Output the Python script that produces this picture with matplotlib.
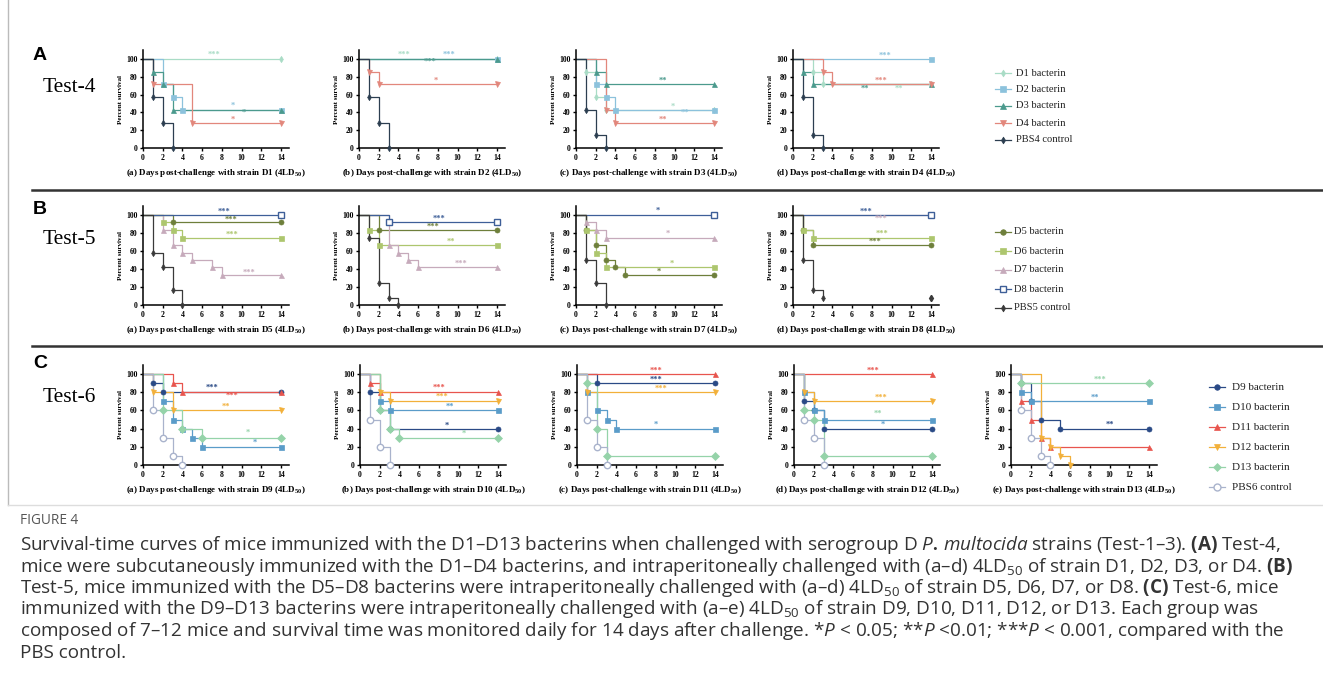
import matplotlib
matplotlib.use('Agg')
import matplotlib.pyplot as plt

W, H, DPI = 1323, 688, 100

plt.rcParams['mathtext.fontset'] = 'custom'
plt.rcParams['mathtext.rm'] = 'Liberation Serif:bold'
plt.rcParams['mathtext.it'] = 'Open Sans:italic'
plt.rcParams['mathtext.bf'] = 'Open Sans:bold'
plt.rcParams['mathtext.sf'] = 'Open Sans'

# ---- series styles (legend order) ----
keys4 = ['D1', 'D2', 'D3', 'D4', 'PBS']
names4 = ['D1 bacterin', 'D2 bacterin', 'D3 bacterin', 'D4 bacterin', 'PBS4 control']
colors4 = ['#a9dcc6', '#8cc2dc', '#4b9a8d', '#e2877c', '#2c3e50']
markers4 = ['d', 's', '^', 'v', 'd']

keys5 = ['D5', 'D6', 'D7', 'D8', 'PBS']
names5 = ['D5 bacterin', 'D6 bacterin', 'D7 bacterin', 'D8 bacterin', 'PBS5 control']
colors5 = ['#6e7f3b', '#adc66e', '#c6aabb', '#3e5f98', '#3a3a3a']
markers5 = ['o', 's', '^', 's', 'd']

keys6 = ['D9', 'D10', 'D11', 'D12', 'D13', 'PBS']
names6 = ['D9 bacterin', 'D10 bacterin', 'D11 bacterin', 'D12 bacterin', 'D13 bacterin', 'PBS6 control']
colors6 = ['#2a4a86', '#5a9cc9', '#e8554e', '#f2b03a', '#95d3a9', '#a9b3cc']
markers6 = ['o', 's', '^', 'v', 'D', 'o']

# ---- survival data: key -> (days, percent survival) ----
# Test-4
t4a = {'D1': ([0, 14], [100, 100]),
       'D2': ([0, 2, 3, 4, 14], [100, 71.4, 57.1, 42.9, 42.9]),
       'D3': ([0, 1, 2, 3, 14], [100, 85.7, 71.4, 42.9, 42.9]),
       'D4': ([0, 1, 5, 14], [100, 71.4, 28.6, 28.6]),
       'PBS': ([0, 1, 2, 3], [100, 57.1, 28.6, 0])}
t4b = {'D1': ([0, 14], [100, 100]),
       'D2': ([0, 14], [100, 100]),
       'D3': ([0, 14], [100, 100]),
       'D4': ([0, 1, 2, 14], [100, 85.7, 71.4, 71.4]),
       'PBS': ([0, 1, 2, 3], [100, 57.1, 28.6, 0])}
t4c = {'D1': ([0, 1, 2, 3, 14], [100, 85.7, 57.1, 42.9, 42.9]),
       'D2': ([0, 2, 3, 4, 14], [100, 71.4, 57.1, 42.9, 42.9]),
       'D3': ([0, 2, 3, 14], [100, 85.7, 71.4, 71.4]),
       'D4': ([0, 3, 4, 14], [100, 42.9, 28.6, 28.6]),
       'PBS': ([0, 1, 2, 3], [100, 42.9, 14.3, 0])}
t4d = {'D1': ([0, 2, 3, 14], [100, 85.7, 71.4, 71.4]),
       'D2': ([0, 14], [100, 100]),
       'D3': ([0, 1, 2, 14], [100, 85.7, 71.4, 71.4]),
       'D4': ([0, 3, 4, 14], [100, 85.7, 71.4, 71.4]),
       'PBS': ([0, 1, 2, 3], [100, 57.1, 14.3, 0])}
# Test-5
t5a = {'D5': ([0, 3, 14], [100, 91.7, 91.7]),
       'D6': ([0, 2, 3, 4, 14], [100, 91.7, 83.3, 75, 75]),
       'D7': ([0, 2, 3, 4, 5, 7, 8, 14], [100, 83.3, 66.7, 58.3, 50, 41.7, 33.3, 33.3]),
       'D8': ([0, 14], [100, 100]),
       'PBS': ([0, 1, 2, 3, 4], [100, 58.3, 41.7, 16.7, 0])}
t5b = {'D5': ([0, 2, 14], [100, 83.3, 83.3]),
       'D6': ([0, 1, 2, 14], [100, 83.3, 66.7, 66.7]),
       'D7': ([0, 3, 4, 5, 6, 14], [100, 66.7, 58.3, 50, 41.7, 41.7]),
       'D8': ([0, 3, 14], [100, 91.7, 91.7]),
       'PBS': ([0, 1, 2, 3, 4], [100, 75, 25, 8.3, 0])}
t5c = {'D5': ([0, 1, 2, 3, 4, 5, 14], [100, 83.3, 66.7, 50, 41.7, 33.3, 33.3]),
       'D6': ([0, 1, 2, 3, 14], [100, 83.3, 58.3, 41.7, 41.7]),
       'D7': ([0, 1, 2, 3, 14], [100, 91.7, 83.3, 75, 75]),
       'D8': ([0, 14], [100, 100]),
       'PBS': ([0, 1, 2, 3], [100, 50, 25, 0])}
t5d = {'D5': ([0, 1, 2, 14], [100, 83.3, 66.7, 66.7]),
       'D6': ([0, 1, 2, 14], [100, 83.3, 75, 75]),
       'D7': ([0, 14], [100, 100]),
       'D8': ([0, 14], [100, 100]),
       'PBS': ([0, 1, 2, 3], [100, 50, 16.7, 8.3])}
t5d_extra = [('PBS', 14, 8.3)]
# Test-6
t6a = {'D9': ([0, 1, 2, 14], [100, 90, 80, 80]),
       'D10': ([0, 2, 3, 4, 5, 6, 14], [100, 70, 50, 40, 30, 20, 20]),
       'D11': ([0, 3, 4, 14], [100, 90, 80, 80]),
       'D12': ([0, 1, 3, 14], [100, 80, 60, 60]),
       'D13': ([0, 2, 4, 6, 14], [100, 60, 40, 30, 30]),
       'PBS': ([0, 1, 2, 3, 4], [100, 60, 30, 10, 0])}
t6b = {'D9': ([0, 1, 2, 3, 14], [100, 80, 60, 40, 40]),
       'D10': ([0, 2, 3, 14], [100, 70, 60, 60]),
       'D11': ([0, 1, 2, 14], [100, 90, 80, 80]),
       'D12': ([0, 2, 3, 14], [100, 80, 70, 70]),
       'D13': ([0, 2, 3, 4, 14], [100, 60, 40, 30, 30]),
       'PBS': ([0, 1, 2, 3], [100, 50, 20, 0])}
t6c = {'D9': ([0, 2, 14], [100, 90, 90]),
       'D10': ([0, 1, 2, 3, 4, 14], [100, 80, 60, 50, 40, 40]),
       'D11': ([0, 14], [100, 100]),
       'D12': ([0, 1, 14], [100, 80, 80]),
       'D13': ([0, 1, 2, 3, 14], [100, 90, 40, 10, 10]),
       'PBS': ([0, 1, 2, 3], [100, 50, 20, 0])}
t6d = {'D9': ([0, 1, 2, 3, 14], [100, 70, 60, 40, 40]),
       'D10': ([0, 1, 2, 3, 14], [100, 80, 60, 50, 50]),
       'D11': ([0, 14], [100, 100]),
       'D12': ([0, 1, 2, 14], [100, 80, 70, 70]),
       'D13': ([0, 1, 2, 3, 14], [100, 60, 50, 10, 10]),
       'PBS': ([0, 1, 2, 3], [100, 50, 30, 0])}
t6e = {'D9': ([0, 1, 2, 3, 5, 14], [100, 90, 70, 50, 40, 40]),
       'D10': ([0, 1, 2, 14], [100, 80, 70, 70]),
       'D11': ([0, 1, 2, 3, 4, 14], [100, 70, 50, 30, 20, 20]),
       'D12': ([0, 3, 4, 5, 6], [100, 30, 20, 10, 0]),
       'D13': ([0, 1, 14], [100, 90, 90]),
       'PBS': ([0, 1, 2, 3, 4], [100, 60, 30, 10, 0])}

# ---- significance marks: (series, day, percent, text) ----
s4a = [('D1', 7.2, 105, '***'), ('D2', 9.1, 47, '*'), ('D3', 10.2, 39, '*'), ('D4', 9.1, 32, '*')]
s4b = [('D1', 4.6, 105, '***'), ('D2', 9.1, 105, '***'), ('D3', 7.2, 97, '***'), ('D4', 7.8, 75, '*')]
s4c = [('D3', 8.8, 76, '**'), ('D1', 9.8, 46, '*'), ('D2', 11.0, 40, '**'), ('D4', 8.8, 32, '**')]
s4d = [('D2', 9.3, 104, '***'), ('D4', 8.9, 76, '***'), ('D3', 7.3, 67, '**'), ('D1', 10.7, 67, '**')]
s5a = [('D8', 8.2, 104, '***'), ('D5', 8.9, 95, '***'), ('D6', 9.0, 78, '***'), ('D7', 10.8, 36, '***')]
s5b = [('D8', 8.1, 95.5, '***'), ('D5', 7.5, 87, '***'), ('D6', 9.35, 70, '**'), ('D7', 10.35, 45.7, '***')]
s5c = [('D8', 8.3, 104.5, '*'), ('D7', 9.3, 79, '*'), ('D6', 9.7, 46, '*'), ('D5', 8.4, 37, '*')]
s5d = [('D8', 7.45, 104, '***'), ('D7', 8.95, 96, '***'), ('D6', 9.0, 79, '***'), ('D5', 8.35, 70, '***')]
s6a = [('D9', 7.0, 84.5, '***'), ('D11', 9.05, 76, '***'), ('D12', 8.45, 63.6, '**'),
       ('D13', 10.6, 35, '*'), ('D10', 11.3, 24, '*')]
s6b = [('D11', 8.05, 84.6, '***'), ('D12', 8.3, 74.6, '***'), ('D10', 9.15, 63.6, '**'),
       ('D9', 8.85, 43, '*'), ('D13', 10.5, 34, '*')]
s6c = [('D11', 8.0, 104, '***'), ('D9', 8.0, 94, '***'), ('D12', 8.5, 84, '***'), ('D10', 8.0, 44, '*')]
s6d = [('D11', 8.0, 104, '***'), ('D12', 8.8, 74, '***'), ('D13', 8.5, 56, '**'), ('D10', 9.0, 44, '*')]
s6e = [('D13', 9.0, 94, '***'), ('D10', 8.5, 74, '**'), ('D9', 10.0, 44, '**')]

xlabels4 = ['(a) Days post-challenge with strain D1', '(b) Days post-challenge with strain D2',
            '(c) Days post-challenge with strain D3', '(d) Days post-challenge with strain D4']
xlabels5 = ['(a) Days post-challenge with strain D5', '(b) Days post-challenge with strain D6',
            '(c) Days post-challenge with strain D7', '(d) Days post-challenge with strain D8']
xlabels6 = ['(a) Days post-challenge with strain D9', '(b) Days post-challenge with strain D10',
            '(c) Days post-challenge with strain D11', '(d) Days post-challenge with strain D12',
            '(e) Days post-challenge with strain D13']

caption = [
    r'Survival-time curves of mice immunized with the D1–D13 bacterins when challenged with serogroup D $\mathit{P.}$$\mathit{multocida}$ strains (Test-1–3). $\mathbf{(A)}$ Test-4,',
    r'mice were subcutaneously immunized with the D1–D4 bacterins, and intraperitoneally challenged with (a–d) 4LD$_{\mathsf{50}}$ of strain D1, D2, D3, or D4. $\mathbf{(B)}$',
    r'Test-5, mice immunized with the D5–D8 bacterins were intraperitoneally challenged with (a–d) 4LD$_{\mathsf{50}}$ of strain D5, D6, D7, or D8. $\mathbf{(C)}$ Test-6, mice',
    r'immunized with the D9–D13 bacterins were intraperitoneally challenged with (a–e) 4LD$_{\mathsf{50}}$ of strain D9, D10, D11, D12, or D13. Each group was',
    r'composed of 7–12 mice and survival time was monitored daily for 14 days after challenge. *$\mathit{P}$ < 0.05; **$\mathit{P}$ <0.01; ***$\mathit{P}$ < 0.001, compared with the',
    r'PBS control.',
]
caption[0] = caption[0].replace(r'$\mathit{P.}$$\mathit{multocida}$', r'$\mathit{P.\,multocida}$')

fig = plt.figure(figsize=(W / DPI, H / DPI), dpi=DPI)
bg = fig.add_axes([0, 0, 1, 1])
bg.set_xlim(0, W)
bg.set_ylim(H, 0)
bg.axis('off')

SERIF = 'Liberation Serif'


def draw_panel(x0, y0, ppy, data, stars, keys, colors, markers, xlabel, extra=()):
    ppx = 9.86
    ax = fig.add_axes([x0 / W, (H - y0) / H, 14.8 * ppx / W, 110 * ppy / H])
    ax.set_xlim(0, 14.8)
    ax.set_ylim(0, 110)
    style = {k: (c, m) for k, c, m in zip(keys, colors, markers)}
    for k in keys:
        if k not in data:
            continue
        c, m = style[k]
        t, s = data[k]
        hollow = (k == 'PBS' and m == 'o') or (k == 'D8')
        ms = 4.6 if hollow else 3.6
        if m == 'd':
            ms = 3.2
        ax.plot(t, s, drawstyle='steps-post', color=c, lw=0.9, clip_on=False, zorder=2)
        ax.plot(t[1:], s[1:], ls='none', marker=m, ms=ms, color=c,
                mfc='white' if hollow else c, mew=1.0 if hollow else 0.5, clip_on=False, zorder=3)
    for k, tx, sy in extra:
        c, m = style[k]
        ax.plot([tx], [sy], ls='none', marker=m, ms=3.2, color=c, clip_on=False)
    for k, tx, sy, txt in stars:
        ax.text(tx, sy, txt, color=style[k][0], fontsize=6, ha='center', va='center',
                family=SERIF, fontweight='bold')
    for sp in ['top', 'right']:
        ax.spines[sp].set_visible(False)
    for sp in ['left', 'bottom']:
        ax.spines[sp].set_linewidth(1.1)
    ax.set_xticks(range(0, 15, 2))
    ax.set_yticks(range(0, 101, 20))
    ax.tick_params(length=2.5, width=1.0, pad=1.5, labelsize=5.6)
    for lab in ax.get_xticklabels() + ax.get_yticklabels():
        lab.set_family(SERIF)
        lab.set_fontweight('bold')
    ax.set_ylabel('Percent survival', family=SERIF, fontweight='bold', fontsize=5, labelpad=2)
    ax.set_xlabel(xlabel + r' (4LD$_{\mathrm{50}}$)', family=SERIF, fontweight='bold',
                  fontsize=6.5, labelpad=4)
    return ax


lefts4 = [143, 359, 576, 793]
lefts6 = [143, 360, 577, 794, 1011]
for x0, d, st, xl in zip(lefts4, [t4a, t4b, t4c, t4d], [s4a, s4b, s4c, s4d], xlabels4):
    draw_panel(x0, 148, 0.89, d, st, keys4, colors4, markers4, xl)
for i, (x0, d, st, xl) in enumerate(zip(lefts4, [t5a, t5b, t5c, t5d], [s5a, s5b, s5c, s5d], xlabels5)):
    draw_panel(x0, 305, 0.90, d, st, keys5, colors5, markers5, xl, extra=t5d_extra if i == 3 else ())
for x0, d, st, xl in zip(lefts6, [t6a, t6b, t6c, t6d, t6e], [s6a, s6b, s6c, s6d, s6e], xlabels6):
    draw_panel(x0, 465, 0.91, d, st, keys6, colors6, markers6, xl)


def legend(xm, xt, ys, names, colors, markers, fs):
    for y, n, c, m in zip(ys, names, colors, markers):
        hollow = n.startswith('D8') or n.startswith('PBS6')
        ms = 5 if hollow else 4
        if m == 'd':
            ms = 3.5
        bg.plot([xm - 8, xm + 8], [y, y], color=c, lw=0.9)
        bg.plot([xm], [y], marker=m, ms=ms, color=c, mfc='white' if hollow else c,
                mew=1.0 if hollow else 0.5)
        bg.text(xt, y, n, family=SERIF, fontsize=fs, va='center', ha='left', color='#222222')


legend(1003, 1016, [73, 89, 106, 123, 140], names4, colors4, markers4, 7.6)
legend(1003, 1014, [232, 251, 270, 289, 308], names5, colors5, markers5, 7.6)
legend(1217, 1232, [387, 407, 427, 447, 467, 487], names6, colors6, markers6, 8.0)

# section separators, letters, test names
for y in [190, 346]:
    bg.plot([32, W], [y, y], color='#333333', lw=1.8)
for y, letter, test, ty in [(55, 'A', 'Test-4', 88), (210, 'B', 'Test-5', 240), (363, 'C', 'Test-6', 397)]:
    bg.text(33, y, letter, family='Liberation Sans', fontweight='bold', fontsize=14, va='center', ha='left')
    bg.text(43, ty, test, family=SERIF, fontsize=15.5, va='center', ha='left')

# frame
bg.plot([8, 8], [0, 505], color='#bbbbbb', lw=1.0)
bg.plot([8, W], [505, 505], color='#dddddd', lw=1.0)

bg.text(20, 521, 'FIGURE 4', family='Open Sans', fontsize=9.8, color='#555555', va='center', ha='left')
for i, line in enumerate(caption):
    bg.text(20, 545 + i * 21.5, line, family='Open Sans', fontsize=13.6, color='#333333',
            va='center', ha='left')

fig.savefig('out.png', dpi=DPI)
